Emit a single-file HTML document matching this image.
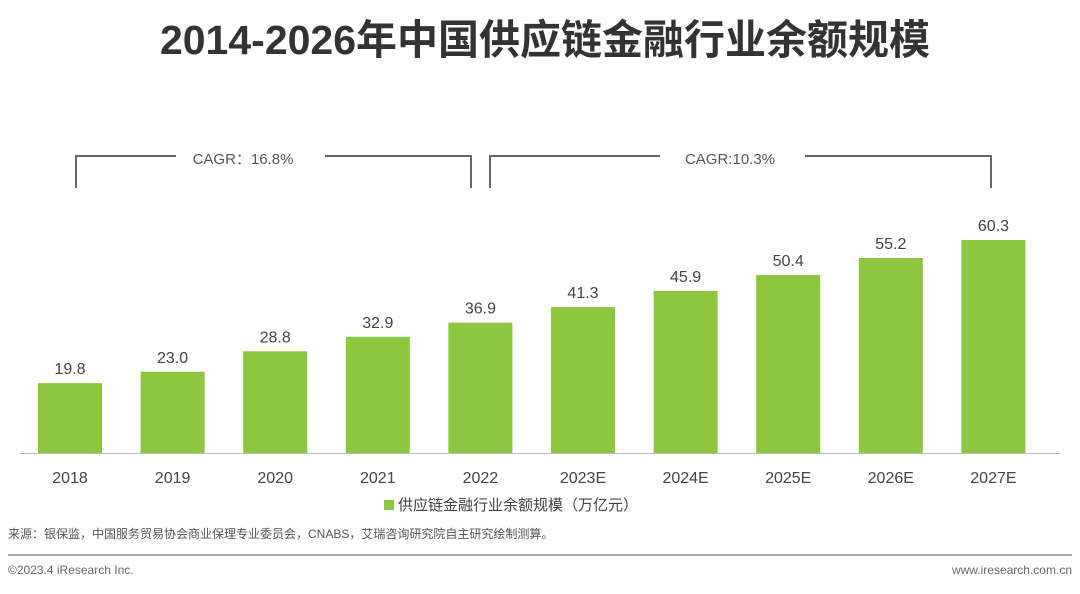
<!DOCTYPE html>
<html><head><meta charset="utf-8"><style>
body{margin:0;background:#fff;width:1080px;height:589px;overflow:hidden}
svg text{font-family:"Liberation Sans","Noto Sans CJK SC",sans-serif}
</style></head><body>
<svg id="chart" width="1080" height="589" viewBox="0 0 1080 589">
<text x="545" y="54" text-anchor="middle" font-size="41" font-weight="bold" fill="#333">2014-2026年中国供应链金融行业余额规模</text>
<g fill="none" stroke="#666" stroke-width="2">
<polyline points="76,188 76,156 176,156"/><polyline points="325,156 471,156 471,188"/>
<polyline points="490,188 490,156 660,156"/><polyline points="805,156 991,156 991,188"/>
</g>
<text x="243" y="164" text-anchor="middle" font-size="15" fill="#555">CAGR：16.8%</text>
<text x="730" y="164" text-anchor="middle" font-size="15" fill="#555">CAGR:10.3%</text>
<g id="bars"></g>
<line x1="20" y1="453.5" x2="1060" y2="453.5" stroke="#bbb" stroke-width="1"/>
<rect x="384" y="500" width="10" height="10" fill="#8dc63f"/>
<text x="398" y="510" font-size="15" fill="#444">供应链金融行业余额规模（万亿元）</text>
<text x="8" y="538" font-size="12" fill="#555">来源：银保监，中国服务贸易协会商业保理专业委员会，CNABS，艾瑞咨询研究院自主研究绘制测算。</text>
<line x1="8" y1="555" x2="1072" y2="555" stroke="#aaa" stroke-width="2"/>
<text x="8" y="574" font-size="12" fill="#666">©2023.4 iResearch Inc.</text>
<text x="1072" y="574" text-anchor="end" font-size="12" fill="#666">www.iresearch.com.cn</text>
</svg>
<script>
const categories=["2018","2019","2020","2021","2022","2023E","2024E","2025E","2026E","2027E"];
const values=[19.8,23.0,28.8,32.9,36.9,41.3,45.9,50.4,55.2,60.3];
const valueLabels=["19.8","23.0","28.8","32.9","36.9","41.3","45.9","50.4","55.2","60.3"];
const ns="http://www.w3.org/2000/svg";
const g=document.getElementById('bars');
const base=453,scale=213/60.3,x0=38,step=102.6,bw=64;
const xPos=i=>x0+i*step, yPos=v=>base-v*scale;
categories.forEach((c,i)=>{
 const r=document.createElementNS(ns,'rect');
 r.setAttribute('x',xPos(i));r.setAttribute('y',yPos(values[i]));
 r.setAttribute('width',bw);r.setAttribute('height',base-yPos(values[i]));
 r.setAttribute('fill','#8dc63f');
 
 
 g.appendChild(r);
 const t=document.createElementNS(ns,'text');
 t.setAttribute('x',xPos(i)+bw/2);t.setAttribute('y',yPos(values[i])-9);
 t.setAttribute('text-anchor','middle');t.setAttribute('font-size','16');t.setAttribute('fill','#444');
 t.textContent=valueLabels[i];
 
 
 g.appendChild(t);
 const l=document.createElementNS(ns,'text');
 l.setAttribute('x',xPos(i)+bw/2);l.setAttribute('y',483);
 l.setAttribute('text-anchor','middle');l.setAttribute('font-size','16');l.setAttribute('fill','#444');
 l.textContent=c;
 
 
 g.appendChild(l);
});
</script>
</body></html>
